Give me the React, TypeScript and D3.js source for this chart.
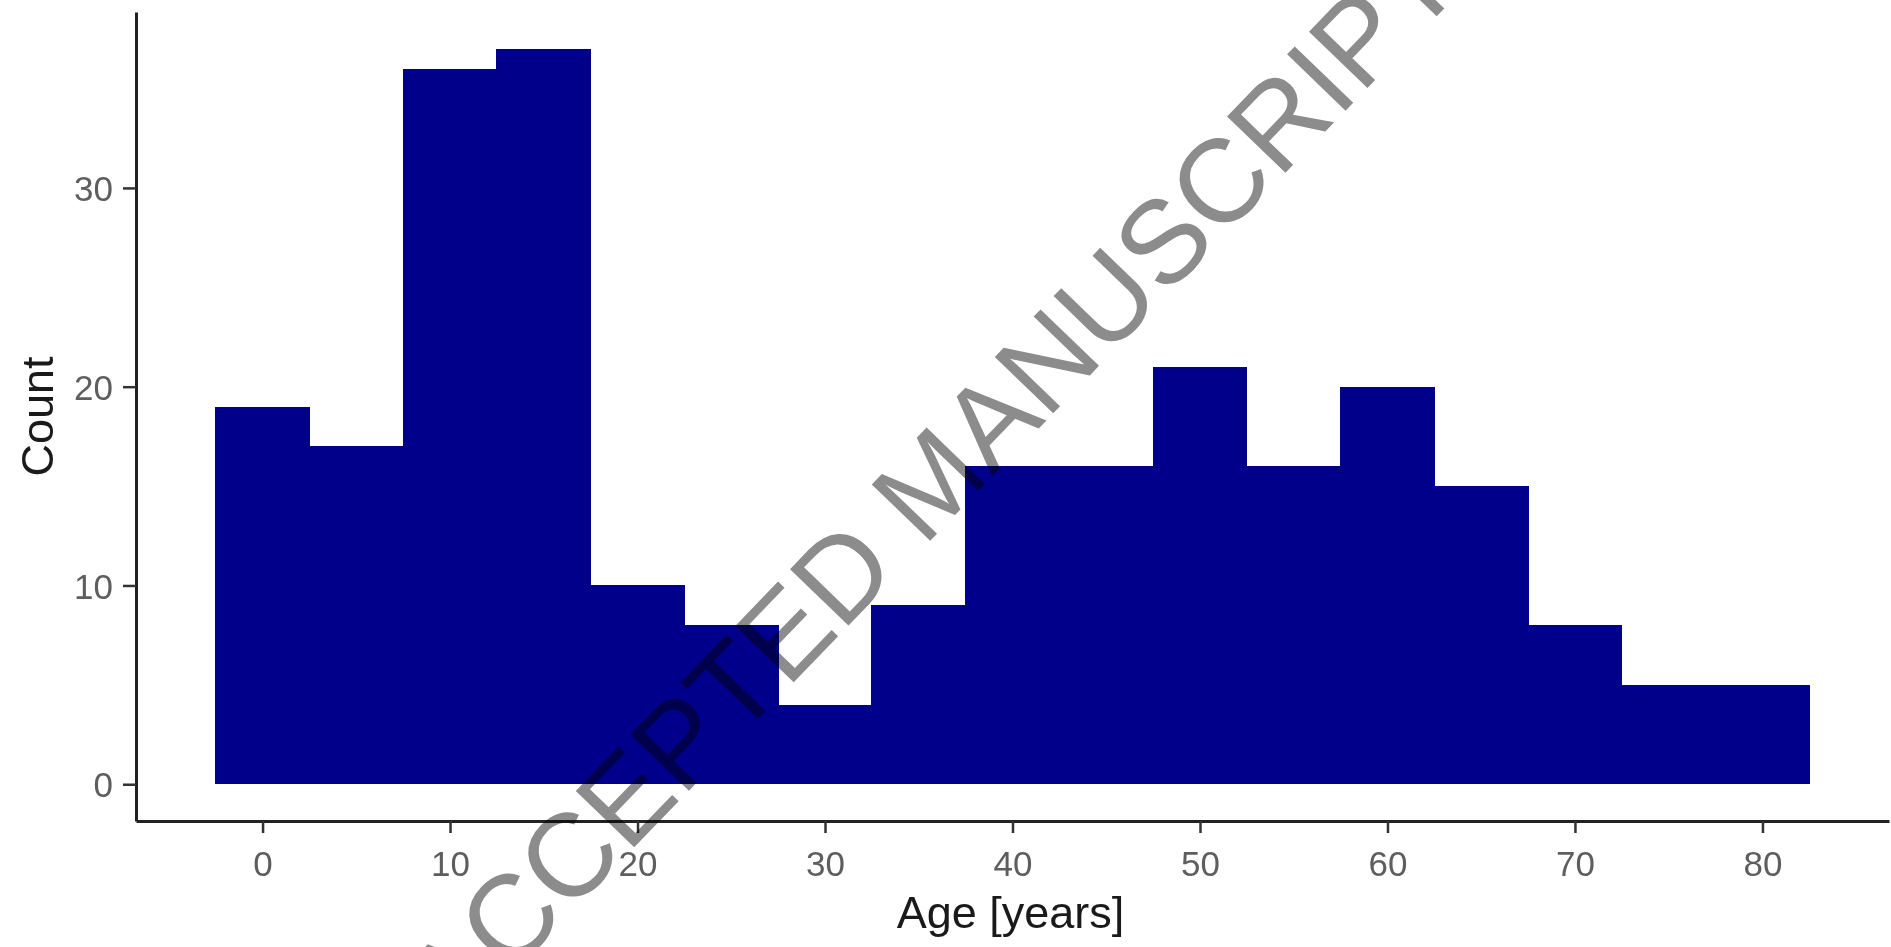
import React, { useRef, useEffect } from 'react';
import * as d3 from 'd3';

// histogram bins (centre of each 5-year bin) and their counts
const binCenters = [0, 5, 10, 15, 20, 25, 30, 35, 40, 45, 50, 55, 60, 65, 70, 75, 80];
const counts = [19, 17, 36, 37, 10, 8, 4, 9, 16, 16, 21, 16, 20, 15, 8, 5, 5];
const binWidth = 5;

const xTicks = [0, 10, 20, 30, 40, 50, 60, 70, 80];
const yTicks = [0, 10, 20, 30];

const xTitle = 'Age [years]';
const yTitle = 'Count';
const watermark = 'ACCEPTED MANUSCRIPT';

const App = () => {
  const svgRef = useRef<SVGSVGElement>(null);

  useEffect(() => {
    const width = 1891;
    const height = 947;
    const panel = { left: 136, right: 1889, top: 12, bottom: 821 };

    const svg = d3.select(svgRef.current);
    svg.selectAll('*').remove();
    svg.attr('width', width).attr('height', height)
      .style('font-family', 'Arial, "Liberation Sans", sans-serif');

    const data = binCenters.map((c, i) => ({ x0: c - binWidth / 2, x1: c + binWidth / 2, n: counts[i] }));

    // ggplot-style 5% expansion on both axes
    const xMin = d3.min(data, d => d.x0)!;
    const xMax = d3.max(data, d => d.x1)!;
    const xPad = (xMax - xMin) * 0.05;
    const yMax = d3.max(counts)!;
    const yPad = yMax * 0.05;

    const x = d3.scaleLinear()
      .domain([xMin - xPad, xMax + xPad])
      .range([panel.left, panel.right]);

    const y = d3.scaleLinear()
      .domain([-yPad, yMax + yPad])
      .range([panel.bottom, panel.top]);

    // bars
    svg.append('g')
      .attr('shape-rendering', 'crispEdges')
      .selectAll('rect')
      .data(data)
      .join('rect')
      .attr('x', d => Math.floor(x(d.x0)))
      .attr('y', d => y(d.n))
      .attr('width', d => Math.ceil(x(d.x1)) - Math.floor(x(d.x0)))
      .attr('height', d => y(0) - y(d.n))
      .attr('fill', '#00008B');

    // axes
    const xAxis = svg.append('g')
      .attr('transform', `translate(0,${panel.bottom})`)
      .call(d3.axisBottom(x).tickValues(xTicks).tickSize(12).tickPadding(18).tickSizeOuter(0));
    const yAxis = svg.append('g')
      .attr('transform', `translate(${panel.left},0)`)
      .call(d3.axisLeft(y).tickValues(yTicks).tickSize(13).tickPadding(10).tickSizeOuter(0));

    [xAxis, yAxis].forEach(g => {
      g.attr('font-family', null).attr('font-size', null);
      g.select('.domain').attr('stroke', '#222').attr('stroke-width', 3);
      g.selectAll('.tick line').attr('stroke', '#333').attr('stroke-width', 2.5);
      g.selectAll('.tick text')
        .attr('fill', '#5e5e5e')
        .style('font-size', '35px');
    });
    yAxis.selectAll('.tick text').attr('dy', '0.36em');

    // axis titles
    svg.append('text')
      .attr('x', (panel.left + panel.right) / 2 - 2)
      .attr('y', 928)
      .attr('text-anchor', 'middle')
      .style('font-size', '45px')
      .attr('fill', '#1a1a1a')
      .text(xTitle);

    svg.append('text')
      .attr('transform', `translate(53,${(panel.top + panel.bottom) / 2}) rotate(-90)`)
      .attr('text-anchor', 'middle')
      .style('font-size', '45px')
      .attr('fill', '#1a1a1a')
      .text(yTitle);

    // watermark, multiplied over the bars
    svg.append('text')
      .attr('transform', 'translate(960,510) rotate(-46)')
      .attr('text-anchor', 'middle')
      .style('font-size', '118px')
      .style('mix-blend-mode', 'multiply')
      .attr('fill', '#8c8c8c')
      .text(watermark);
  }, []);

  return (
    <svg ref={svgRef} style={{ position: 'absolute', left: 0, top: 0, background: '#fff' }}></svg>
  );
};

export default App;
